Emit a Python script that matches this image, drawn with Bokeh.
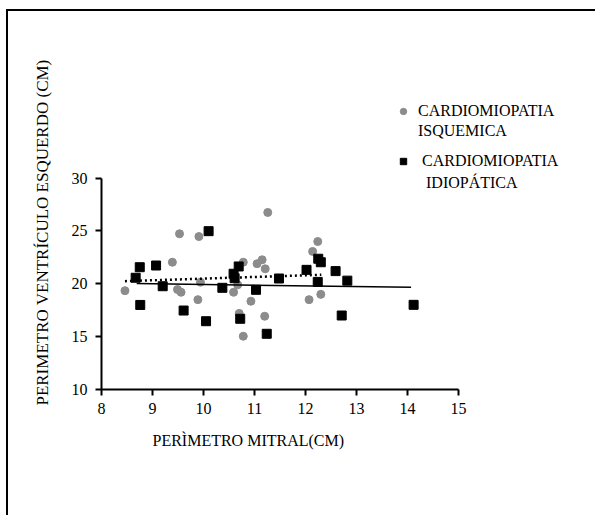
from bokeh.plotting import figure
from bokeh.models import Range1d, FixedTicker, Legend, LegendItem, Title
from bokeh.embed import file_html
from bokeh.resources import INLINE

# ---- data ----
isq_x = [8.46, 9.53, 9.91, 11.26, 9.39, 9.49, 9.56, 9.94, 9.89, 10.78, 11.05, 11.15,
         11.21, 10.59, 10.67, 10.70, 10.78, 10.93, 11.20, 12.07, 12.30, 12.24, 12.14]
isq_y = [19.35, 24.73, 24.47, 26.75, 22.04, 19.46, 19.20, 20.15, 18.50, 22.04, 21.90, 22.27,
         21.42, 19.20, 19.90, 17.20, 15.04, 18.35, 16.93, 18.50, 19.00, 24.00, 23.06]

idio_x = [8.67, 8.75, 9.07, 9.20, 10.10, 10.37, 10.59, 10.61, 10.69, 11.03, 11.48, 12.02,
          12.24, 8.76, 9.61, 10.05, 10.72, 11.24, 12.25, 12.30, 12.59, 12.82, 12.71, 14.12]
idio_y = [20.57, 21.57, 21.73, 19.77, 24.98, 19.62, 20.95, 20.53, 21.64, 19.43, 20.50, 21.32,
          20.18, 18.00, 17.47, 16.46, 16.69, 15.27, 22.37, 22.04, 21.20, 20.30, 17.00, 18.01]

isq_fit_x = [8.46, 12.31]
isq_fit_y = [20.25, 20.85]
idio_fit_x = [8.69, 14.07]
idio_fit_y = [20.02, 19.68]

x_ticks = [8, 9, 10, 11, 12, 13, 14, 15]
y_ticks = [10, 15, 20, 25, 30]

x_title = "PERÌMETRO MITRAL(CM)"
y_title = "PERIMETRO VENTRÍCULO ESQUERDO (CM)"
isq_lines = ["CARDIOMIOPATIA", "ISQUEMICA"]
idio_lines = ["\u00a0CARDIOMIOPATIA", "\u00a0\u00a0IDIOPÁTICA"]

FONT = "Liberation Serif"

# frame: 101..585 px wide (51 px per x unit), 75..389 px tall (10.57 px per y unit)
p = figure(width=595, height=515, output_backend="svg", toolbar_location=None,
           x_range=Range1d(8, 8 + 484 / 51), y_range=Range1d(10, 10 + 314 / 10.57),
           min_border_left=101, min_border_right=10, min_border_top=75, min_border_bottom=126)
p.outline_line_color = None
p.xgrid.visible = False
p.ygrid.visible = False
p.background_fill_color = None
p.border_fill_color = None
p.styles = {"background": "linear-gradient(#000,#000) 6px 9px / 2px calc(100% - 9px) no-repeat, "
                          "linear-gradient(#000,#000) 6px 9px / calc(100% - 6px) 2px no-repeat, #fff"}

for ax, ticks, bnds in ((p.xaxis[0], x_ticks, (8, 15)), (p.yaxis[0], y_ticks, (10, 30))):
    ax.ticker = FixedTicker(ticks=ticks)
    ax.bounds = bnds
    ax.axis_line_width = 2
    ax.axis_line_color = "black"
    ax.major_tick_line_width = 2
    ax.major_tick_line_color = "black"
    ax.major_tick_out = 6
    ax.major_tick_in = 0
    ax.minor_tick_line_color = None
    ax.major_label_text_font = FONT
    ax.major_label_text_font_size = "16px"
    ax.major_label_text_color = "black"
p.xaxis.major_label_standoff = 7
p.yaxis.major_label_standoff = 8

p.yaxis.axis_label = y_title
p.yaxis.axis_label_text_font = FONT
p.yaxis.axis_label_text_font_size = "17px"
p.yaxis.axis_label_text_font_style = "normal"
p.yaxis.axis_label_text_color = "black"
p.yaxis.axis_label_standoff = 17

p.add_layout(Title(text=x_title, align="left", offset=51, text_font=FONT,
                   text_font_size="16px", text_font_style="normal", text_color="black",
                   standoff=26), "below")

r_isq = p.scatter(isq_x, isq_y, marker="circle", size=8, fill_color="#8c8c8c",
                  line_color="#8c8c8c")
r_idio = p.scatter(idio_x, idio_y, marker="square", size=9, fill_color="black",
                   line_color="black")
p.line(isq_fit_x, isq_fit_y, line_color="black", line_width=2.5, line_dash="2 3")
p.line(idio_fit_x, idio_fit_y, line_color="black", line_width=1.5)


def make_legend(lines, renderer, loc, spacing):
    lg = Legend(items=[LegendItem(label=lines[0], renderers=[renderer]),
                       LegendItem(label=lines[1], renderers=[])],
                location=loc)
    lg.border_line_color = None
    lg.background_fill_alpha = 0
    lg.label_text_font = FONT
    lg.label_text_font_size = "16px"
    lg.label_text_line_height = 1.0
    lg.label_text_color = "black"
    lg.glyph_width = 20
    lg.glyph_height = 16
    lg.label_height = 16
    lg.spacing = spacing
    return lg


p.add_layout(make_legend(isq_lines, r_isq, (292, 249), 2))
p.add_layout(make_legend(idio_lines, r_idio, (292, 197), 4))

open("out.html", "w").write(file_html(p, INLINE))
